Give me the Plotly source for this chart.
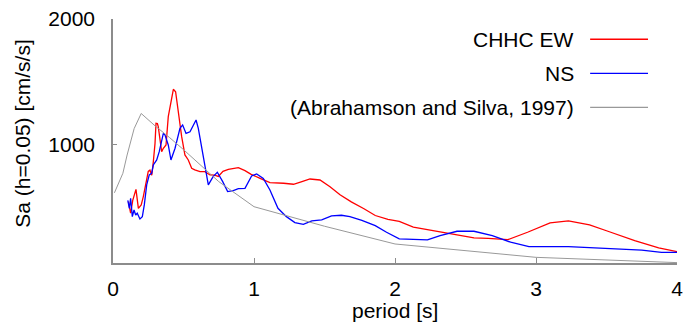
import plotly.graph_objects as go

# Response spectra, Sa (h=0.05) against period
ew_period = [0.109, 0.125, 0.14, 0.163, 0.18, 0.20, 0.215, 0.24, 0.25, 0.262, 0.275, 0.286,
             0.298, 0.305, 0.315, 0.321, 0.333, 0.345, 0.357, 0.376, 0.392, 0.416, 0.428,
             0.444, 0.463, 0.487, 0.51, 0.534, 0.558, 0.58, 0.617, 0.652, 0.688, 0.72,
             0.747, 0.78, 0.818, 0.86, 0.889, 0.936, 0.98, 1.043, 1.113, 1.21, 1.28, 1.34,
             1.397, 1.468, 1.539, 1.61, 1.69, 1.78, 1.86, 1.95, 2.03, 2.13, 2.30, 2.44,
             2.56, 2.66, 2.80, 2.94, 3.10, 3.23, 3.38, 3.51, 3.70, 3.87, 4.0]
ew_sa = [550, 458, 560, 648, 497, 524, 590, 722, 790, 800, 760, 868,
         1013, 1172, 1170, 1146, 1040, 947, 974, 1000, 1225, 1384, 1442,
         1423, 1251, 1066, 921, 881, 815, 802, 788, 788, 762, 760,
         750, 790, 806, 815, 820, 796, 767, 735, 701, 696, 688, 709,
         730, 722, 669, 605, 548, 494, 440, 410, 393, 348, 313, 281,
         262, 259, 248, 307, 382, 398, 366, 315, 240, 183, 153]

ns_period = [0.105, 0.116, 0.125, 0.137, 0.149, 0.161, 0.172, 0.191, 0.208, 0.222, 0.239,
             0.257, 0.274, 0.286, 0.31, 0.328, 0.357, 0.369, 0.392, 0.411, 0.44, 0.475,
             0.494, 0.518, 0.546, 0.589, 0.605, 0.636, 0.676, 0.71, 0.74, 0.778, 0.813,
             0.853, 0.889, 0.936, 0.983, 1.019, 1.066, 1.113, 1.17, 1.23, 1.29, 1.35,
             1.41, 1.48, 1.55, 1.62, 1.68, 1.765, 1.86, 1.94, 2.03, 2.23, 2.32, 2.44,
             2.56, 2.69, 2.82, 2.95, 3.23, 3.49, 3.75, 3.89, 4.0]
ns_sa = [560, 497, 577, 431, 484, 444, 458, 413, 431, 524, 683,
         762, 775, 841, 881, 947, 1092, 1079, 1000, 881, 974, 1132,
         1159, 1092, 1105, 1198, 1132, 947, 683, 749, 783, 709, 630,
         638, 654, 656, 754, 770, 735, 643, 497, 431, 384, 370,
         397, 405, 437, 442, 431, 401, 360, 307, 254, 246, 281, 315,
         315, 281, 228, 193, 193, 179, 166, 148, 148]

as97_period = [0.01, 0.07, 0.1, 0.15, 0.2, 0.3, 0.4, 0.5, 0.75, 1.0, 1.5, 2.0, 3.0, 4.0]
as97_sa = [620, 775, 920, 1130, 1250, 1150, 1060, 963, 709, 510, 355, 214, 108, 66]

series_names = ["CHHC EW", "NS", "(Abrahamson and Silva, 1997)"]
series_colors = ["#ff0000", "#0000ff", "#999999"]
series_widths = [1.3, 1.3, 1.0]

x_ticks = [0, 1, 2, 3, 4]
y_ticks = [1000, 2000]

FONT = "Liberation Sans"
FS = 21
AXIS_COLOR = "#8c8c8c"

fig = go.Figure()
for name, xs, ys, c, w in zip(series_names,
                              [ew_period, ns_period, as97_period],
                              [ew_sa, ns_sa, as97_sa],
                              series_colors, series_widths):
    fig.add_trace(go.Scatter(x=xs, y=ys, mode="lines", name=name,
                             line=dict(color=c, width=w), showlegend=False))

# key drawn at the upper right: right-aligned text, line sample to its right
key_rows = [0.917, 0.777, 0.638]
for name, c, yk in zip(series_names, series_colors, key_rows):
    fig.add_annotation(x=0.821, y=yk, xref="paper", yref="paper", text=name,
                       showarrow=False, xanchor="right", yanchor="middle",
                       font=dict(family=FONT, size=FS, color="black"))
    fig.add_shape(type="line", xref="paper", yref="paper",
                  x0=0.846, x1=0.9486, y0=yk, y1=yk,
                  line=dict(color=c, width=1.3))

fig.add_annotation(x=-0.16, y=0.533, xref="paper", yref="paper",
                   text="Sa (h=0.05) [cm/s/s]", textangle=-90, showarrow=False,
                   xanchor="center", yanchor="middle",
                   font=dict(family=FONT, size=FS, color="black"))
fig.add_annotation(x=0.5, y=-0.195, xref="paper", yref="paper",
                   text="period [s]", showarrow=False,
                   xanchor="center", yanchor="middle",
                   font=dict(family=FONT, size=FS, color="black"))

fig.update_xaxes(range=[0, 4], tickvals=x_ticks, ticktext=[str(v) for v in x_ticks],
                 showgrid=False, zeroline=False, showline=True, automargin=False,
                 linecolor=AXIS_COLOR, linewidth=1.5,
                 ticks="inside", ticklen=5, tickcolor=AXIS_COLOR, tickwidth=1,
                 ticklabelstandoff=6,
                 tickfont=dict(family=FONT, size=FS, color="black"))
fig.update_yaxes(range=[63, 2000], tickvals=y_ticks, ticktext=[str(v) for v in y_ticks],
                 showgrid=False, zeroline=False, showline=True, automargin=False,
                 linecolor=AXIS_COLOR, linewidth=1.5,
                 ticks="inside", ticklen=4, tickcolor=AXIS_COLOR, tickwidth=1,
                 ticklabelstandoff=12,
                 tickfont=dict(family=FONT, size=FS, color="black"))

fig.update_layout(width=684, height=322, autosize=False,
                  margin=dict(l=113, r=7, t=19, b=59),
                  plot_bgcolor="white", paper_bgcolor="white",
                  font=dict(family=FONT, size=FS, color="black"))

fig.write_html("out.html")
